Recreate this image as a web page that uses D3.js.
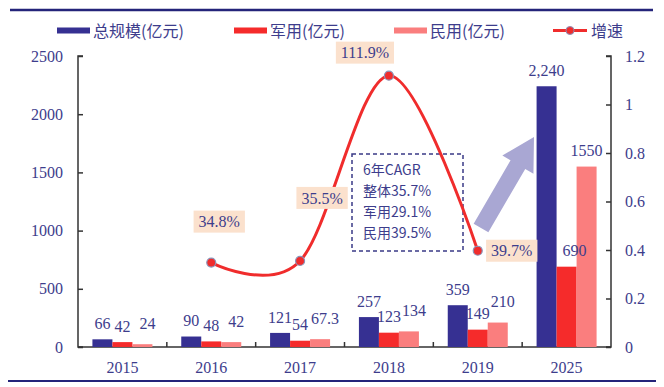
<!DOCTYPE html>
<html>
<head>
<meta charset="utf-8">
<script src="https://cdn.jsdelivr.net/npm/d3@7/dist/d3.min.js"></script>
<style>
  html, body { margin: 0; padding: 0; background: #fff; }
  svg { display: block; }
</style>
</head>
<body>
<svg id="chart" width="664" height="387"></svg>
<script>
// ---------- data ----------
const years = ["2015", "2016", "2017", "2018", "2019", "2025"];
const seriesNames = ["总规模(亿元)", "军用(亿元)", "民用(亿元)"];
const totalValues = [66, 90, 121, 257, 359, 2240];
const militaryValues = [42, 48, 54, 123, 149, 690];
const civilValues = [24, 42, 67.3, 134, 210, 1550];
const totalLabels = ["66", "90", "121", "257", "359", "2,240"];
const militaryLabels = ["42", "48", "54", "123", "149", "690"];
const civilLabels = ["24", "42", "67.3", "134", "210", "1550"];
const growthName = "增速";
const growthYears = ["2016", "2017", "2018", "2019"];
const growthValues = [0.348, 0.355, 1.119, 0.397];
const growthLabels = ["34.8%", "35.5%", "111.9%", "39.7%"];
const leftTicks = [0, 500, 1000, 1500, 2000, 2500];
const rightTicks = [0, 0.2, 0.4, 0.6, 0.8, 1, 1.2];
const cagrLines = ["6年CAGR", "整体35.7%", "军用29.1%", "民用39.5%"];

// ---------- styles ----------
const colors = ["#363092", "#f52b2b", "#fa7e7e"];
const lineColor = "#f02c2c";
const textColor = "#3d3d8c";
const numFont = "'Liberation Serif', 'Noto Sans CJK SC', serif";
const cjkFont = "'Noto Sans CJK SC', 'Liberation Serif', serif";

const svg = d3.select("#chart");
const plotLeft = 78, plotRight = 611, plotTop = 56, plotBottom = 347;

const x = d3.scaleBand().domain(years).range([plotLeft, plotRight]).paddingInner(0).paddingOuter(0);
const bw = 20;
const x1 = d3.scaleBand().domain(d3.range(3))
  .range([x.bandwidth() / 2 - 1.5 * bw, x.bandwidth() / 2 + 1.5 * bw]).padding(0);
const yL = d3.scaleLinear().domain([0, 2500]).range([plotBottom, plotTop]);
const yR = d3.scaleLinear().domain([0, 1.2]).range([plotBottom, plotTop]);

// top & bottom frame lines
svg.append("line").attr("x1", 10).attr("x2", 653).attr("y1", 10).attr("y2", 10)
  .attr("stroke", "#24247a").attr("stroke-width", 2.5);
svg.append("line").attr("x1", 8).attr("x2", 656).attr("y1", 381).attr("y2", 381)
  .attr("stroke", "#24247a").attr("stroke-width", 2);

// ---------- legend ----------
const legend = svg.append("g");
const legendItems = [
  { x: 57, name: seriesNames[0], color: colors[0] },
  { x: 234, name: seriesNames[1], color: colors[1] },
  { x: 394, name: seriesNames[2], color: colors[2] }
];
legendItems.forEach(it => {
  legend.append("rect").attr("x", it.x).attr("y", 27.5).attr("width", 33).attr("height", 6).attr("fill", it.color);
  legend.append("text").attr("x", it.x + 36).attr("y", 31).attr("dy", "0.35em")
    .attr("font-family", cjkFont).attr("font-size", 16).attr("fill", textColor).text(it.name);
});
legend.append("line").attr("x1", 553).attr("x2", 587).attr("y1", 30.5).attr("y2", 30.5)
  .attr("stroke", lineColor).attr("stroke-width", 3);
legend.append("circle").attr("cx", 570).attr("cy", 30.5).attr("r", 4)
  .attr("fill", lineColor).attr("stroke", "#8a8fb8").attr("stroke-width", 1);
legend.append("text").attr("x", 591).attr("y", 31).attr("dy", "0.35em")
  .attr("font-family", cjkFont).attr("font-size", 16).attr("fill", textColor).text(growthName);

// ---------- axes ----------
const axisColor = "#333";
const gL = svg.append("g").attr("transform", `translate(${plotLeft},0)`)
  .call(d3.axisLeft(yL).tickValues(leftTicks).tickSize(-5).tickPadding(15).tickFormat(d3.format("d")));
const gR = svg.append("g").attr("transform", `translate(${plotRight},0)`)
  .call(d3.axisRight(yR).tickValues(rightTicks).tickSize(-5).tickPadding(14).tickFormat(d => d3.format("~g")(d)));
[gL, gR].forEach(g => {
  g.select(".domain").attr("stroke", axisColor).attr("stroke-width", 1.5);
  g.selectAll(".tick line").attr("stroke", axisColor).attr("stroke-width", 1.5);
  g.selectAll(".tick text").attr("font-family", numFont).attr("font-size", 16).attr("fill", textColor);
});
gR.select(".domain").attr("d", `M-5,${plotTop}H0V${plotBottom}H-5`);
gL.select(".domain").attr("d", `M5,${plotTop}H0V${plotBottom}H5`);

// bottom axis
const gB = svg.append("g").attr("transform", `translate(0,${plotBottom})`);
gB.append("line").attr("x1", plotLeft).attr("x2", plotRight).attr("y1", 0).attr("y2", 0)
  .attr("stroke", axisColor).attr("stroke-width", 1.5);
years.slice(1).forEach(yr => {
  gB.append("line").attr("x1", x(yr)).attr("x2", x(yr)).attr("y1", 0).attr("y2", -5)
    .attr("stroke", axisColor).attr("stroke-width", 1.5);
});
gB.selectAll("text.xl").data(years).join("text").attr("class", "xl")
  .attr("x", d => x(d) + x.bandwidth() / 2).attr("y", 20).attr("dy", "0.35em")
  .attr("text-anchor", "middle").attr("font-family", numFont).attr("font-size", 16)
  .attr("fill", textColor).text(d => d);

// ---------- bars ----------
const seriesValues = [totalValues, militaryValues, civilValues];
const seriesLabels = [totalLabels, militaryLabels, civilLabels];
const barsG = svg.append("g");
seriesValues.forEach((vals, si) => {
  barsG.selectAll(`rect.s${si}`).data(vals).join("rect").attr("class", `s${si}`)
    .attr("x", (d, i) => x(years[i]) + x1(si))
    .attr("width", x1.bandwidth())
    .attr("y", d => yL(d))
    .attr("height", d => plotBottom - yL(d))
    .attr("fill", colors[si]);
});
// bar labels (placement rule: above bar; civil labels nudged right/up to avoid collisions)
const isLast = i => i === years.length - 1;
const labelDx = (si, i) => si === 2 ? (isLast(i) ? 0 : 5) : (si === 1 && isLast(i) ? 8 : 0);
const labelDy = (si, i) => si === 2 && !isLast(i) ? -21 : -16;
seriesValues.forEach((vals, si) => {
  barsG.selectAll(`text.l${si}`).data(vals).join("text").attr("class", `l${si}`)
    .attr("x", (d, i) => x(years[i]) + x1(si) + x1.bandwidth() / 2 + labelDx(si, i))
    .attr("y", (d, i) => yL(d) + labelDy(si, i))
    .attr("dy", "0.35em")
    .attr("text-anchor", "middle").attr("font-family", numFont).attr("font-size", 16)
    .attr("fill", textColor).text((d, i) => seriesLabels[si][i]);
});

// ---------- arrow ----------
(function () {
  const x0 = 481, y0 = 228, xa = 534, ya = 137;
  const dx = xa - x0, dy = ya - y0, len = Math.hypot(dx, dy);
  const ux = dx / len, uy = dy / len, nx = -uy, ny = ux;
  const shaft = 8.5, head = 18, headLen = 32;
  const bx = xa - ux * headLen, by = ya - uy * headLen;
  const pts = [
    [x0 + nx * shaft, y0 + ny * shaft],
    [bx + nx * shaft, by + ny * shaft],
    [bx + nx * head, by + ny * head],
    [xa, ya],
    [bx - nx * head, by - ny * head],
    [bx - nx * shaft, by - ny * shaft],
    [x0 - nx * shaft, y0 - ny * shaft]
  ];
  svg.append("path").attr("d", "M" + pts.map(p => p.join(",")).join("L") + "Z")
    .attr("fill", "#a9a7d3");
})();

// ---------- CAGR box ----------
svg.append("rect").attr("x", 352).attr("y", 154).attr("width", 111).attr("height", 97)
  .attr("fill", "none").attr("stroke", "#3a3a86").attr("stroke-width", 1.5).attr("stroke-dasharray", "4,3");
const cagrY = [170, 191.5, 212.5, 233.5];
cagrLines.forEach((t, i) => {
  svg.append("text").attr("x", 363).attr("y", cagrY[i]).attr("dy", "0.35em")
    .attr("font-family", cjkFont).attr("font-size", 14).attr("fill", textColor).text(t);
});

// ---------- growth line ----------
const lineG = svg.append("g");
const cx = d => x(d) + x.bandwidth() / 2;
const line = d3.line().x((d, i) => cx(growthYears[i])).y(d => yR(d)).curve(d3.curveCardinal.tension(0));
lineG.append("path").datum(growthValues).attr("d", line).attr("fill", "none")
  .attr("stroke", lineColor).attr("stroke-width", 3);
lineG.selectAll("circle").data(growthValues).join("circle")
  .attr("cx", (d, i) => cx(growthYears[i])).attr("cy", d => yR(d)).attr("r", 4.5)
  .attr("fill", lineColor).attr("stroke", "#8a93b8").attr("stroke-width", 1.2);

// growth labels with peach background
const gOff = [[8, -41], [22, -63], [-24, -23], [34, 0]];
growthValues.forEach((v, i) => {
  const px = cx(growthYears[i]) + gOff[i][0], py = yR(v) + gOff[i][1];
  const t = lineG.append("text").attr("x", px).attr("y", py).attr("dy", "0.35em")
    .attr("text-anchor", "middle").attr("font-family", numFont).attr("font-size", 16)
    .attr("fill", textColor).text(growthLabels[i]);
  const bb = t.node().getBBox();
  lineG.insert("rect", () => t.node())
    .attr("x", bb.x - 5).attr("y", py - 11).attr("width", bb.width + 10).attr("height", 22)
    .attr("fill", "#fbe1cd");
});
</script>
</body>
</html>
